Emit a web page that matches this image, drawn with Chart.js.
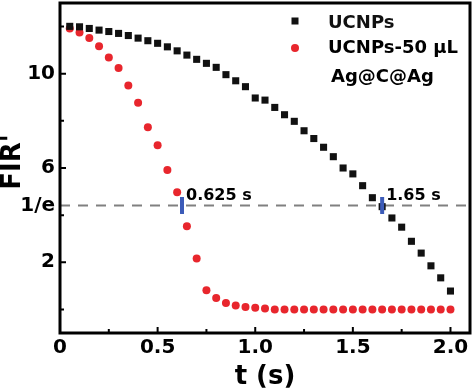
<!DOCTYPE html>
<html lang="pt-BR">
<head>
<meta charset="utf-8">
<title>FIR' x t</title>
<script src="https://cdn.jsdelivr.net/npm/chart.js@4.4.1/dist/chart.umd.min.js"></script>
<style>
  html, body { margin: 0; padding: 0; background: #fff; }
  #grafico { display: block; }
</style>
</head>
<body>
<canvas id="grafico" width="474" height="392"></canvas>
<script>
'use strict';

// Tempo (s) de cada medida
const tempos = [0.05, 0.10, 0.15, 0.20, 0.25, 0.30, 0.35, 0.40, 0.45, 0.50,
  0.55, 0.60, 0.65, 0.70, 0.75, 0.80, 0.85, 0.90, 0.95, 1.00,
  1.05, 1.10, 1.15, 1.20, 1.25, 1.30, 1.35, 1.40, 1.45, 1.50,
  1.55, 1.60, 1.65, 1.70, 1.75, 1.80, 1.85, 1.90, 1.95, 2.00];

// FIR' – UCNPs (quadrados pretos)
const firUCNPs = [12.01, 11.99, 11.92, 11.85, 11.79, 11.71, 11.62, 11.51, 11.40, 11.29,
  11.14, 10.97, 10.79, 10.61, 10.44, 10.27, 9.96, 9.70, 9.45, 8.97,
  8.88, 8.57, 8.26, 7.98, 7.58, 7.25, 6.88, 6.48, 6.00, 5.75,
  5.25, 4.74, 4.36, 3.88, 3.49, 2.89, 2.39, 1.85, 1.34, 0.78];

// FIR' – UCNPs-50 µL Ag@C@Ag (círculos vermelhos)
const firAgCAg = [11.92, 11.75, 11.51, 11.17, 10.69, 10.24, 9.50, 8.77, 7.73, 6.96,
  5.92, 4.97, 3.53, 2.16, 0.81, 0.48, 0.27, 0.17, 0.10, 0.07,
  0.04, 0.00, 0.00, 0.00, 0.00, 0.00, 0.00, 0.00, 0.00, 0.00,
  0.00, 0.00, 0.00, 0.00, 0.00, 0.00, 0.00, 0.00, 0.00, 0.00];

const UM_SOBRE_E = 4.41;              // 12/e, linha tracejada
const tempoLinha = [0, 2.1];          // extensão da linha tracejada
const marcadores = [0.625, 1.65];     // tempos onde cruza 1/e
const rotulosMarcadores = ['0.625 s', '1.65 s'];

const xTicks = [0, 0.5, 1, 1.5, 2];
const xRotulos = ['0', '0.5', '1.0', '1.5', '2.0'];
const xMenores = [0.25, 0.75, 1.25, 1.75];
const yMaiores = [2, 6, 10];
const yTicks = [2, 6, 10, UM_SOBRE_E];
const yRotulos = ['2', '6', '10', '1/e'];
const yMenores = [0, 4, 8, 12];

const legendas = ['UCNPs', 'UCNPs-50 µL'];
const legendaExtra = 'Ag@C@Ag';

const FONTE = "'DejaVu Sans', sans-serif";
const PRETO = '#111';
const VERMELHO = '#e8262d';
const AZUL = '#3c5bb8';

const pontos = (ys) => tempos.map((t, i) => ({ x: t, y: ys[i] }));

// Fundo branco, moldura, ticks internos, títulos, anotações e legenda
const desenhoExtra = {
  id: 'desenhoExtra',
  beforeDraw(chart) {
    const { ctx, width, height } = chart;
    ctx.save();
    ctx.fillStyle = '#fff';
    ctx.fillRect(0, 0, width, height);
    ctx.restore();
  },
  afterDraw(chart) {
    const { ctx, chartArea: a, scales: { x, y } } = chart;
    ctx.save();

    // ticks para dentro
    ctx.strokeStyle = '#000';
    ctx.lineWidth = 2;
    ctx.beginPath();
    for (const v of xTicks) { const px = x.getPixelForValue(v); ctx.moveTo(px, a.bottom); ctx.lineTo(px, a.bottom - 6); }
    for (const v of xMenores) { const px = x.getPixelForValue(v); ctx.moveTo(px, a.bottom); ctx.lineTo(px, a.bottom - 4); }
    for (const v of yMaiores) { const py = y.getPixelForValue(v); ctx.moveTo(a.left, py); ctx.lineTo(a.left + 6, py); }
    for (const v of yMenores) { const py = y.getPixelForValue(v); ctx.moveTo(a.left, py); ctx.lineTo(a.left + 4, py); }
    ctx.stroke();

    ctx.lineWidth = 3;
    ctx.strokeRect(a.left, a.top, a.right - a.left, a.bottom - a.top);

    // títulos dos eixos
    ctx.fillStyle = '#000';
    ctx.font = `bold 26px ${FONTE}`;
    ctx.textAlign = 'center';
    ctx.textBaseline = 'middle';
    ctx.fillText('t (s)', (a.left + a.right) / 2, 377);
    ctx.save();
    ctx.translate(13, 162);
    ctx.rotate(-Math.PI / 2);
    ctx.fillText("FIR'", 0, 0);
    ctx.restore();

    // rótulos dos tempos em 1/e
    ctx.font = `bold 16px ${FONTE}`;
    ctx.textAlign = 'left';
    ctx.textBaseline = 'alphabetic';
    const yE = y.getPixelForValue(UM_SOBRE_E);
    marcadores.forEach((m, i) => {
      ctx.fillText(rotulosMarcadores[i], x.getPixelForValue(m) + 4, yE - 5);
    });

    // legenda
    ctx.font = `bold 18px ${FONTE}`;
    const lx = a.right - 175;
    const tx = a.right - 142;
    ctx.fillStyle = PRETO;
    ctx.fillRect(lx - 3.5, a.top + 18 - 3.5, 7, 7);
    ctx.fillText(legendas[0], tx, a.top + 25);
    ctx.fillStyle = VERMELHO;
    ctx.beginPath();
    ctx.arc(lx, a.top + 45, 4, 0, Math.PI * 2);
    ctx.fill();
    ctx.fillStyle = '#000';
    ctx.fillText(legendas[1], tx, a.top + 50);
    ctx.fillText(legendaExtra, tx + 3, a.top + 79);

    ctx.restore();
  },
};

const fonteTicks = { family: FONTE, size: 20, weight: 'bold' };

new Chart(document.getElementById('grafico'), {
  type: 'scatter',
  data: {
    datasets: [
      {
        label: 'marcadores',
        data: marcadores.map((m) => ({ x: m, y: UM_SOBRE_E })),
        pointStyle: 'line',
        rotation: 90,
        pointRadius: 8.5,
        borderColor: AZUL,
        pointBorderWidth: 4,
        order: 0,
      },
      {
        label: legendas[0],
        data: pontos(firUCNPs),
        pointStyle: 'rect',
        pointRadius: 5,
        backgroundColor: PRETO,
        pointBorderWidth: 0,
        order: 1,
      },
      {
        label: legendas[1],
        data: pontos(firAgCAg),
        pointStyle: 'circle',
        pointRadius: 4,
        backgroundColor: VERMELHO,
        pointBorderWidth: 0,
        order: 2,
      },
      {
        label: '1/e',
        data: tempoLinha.map((t) => ({ x: t, y: UM_SOBRE_E })),
        showLine: true,
        borderColor: '#808080',
        borderWidth: 2,
        borderDash: [10, 8],
        pointRadius: 0,
        order: 3,
      },
    ],
  },
  options: {
    responsive: false,
    animation: false,
    events: [],
    layout: { autoPadding: false, padding: { top: 3, right: 4, left: 0, bottom: 0 } },
    plugins: { legend: { display: false }, tooltip: { enabled: false } },
    scales: {
      x: {
        type: 'linear',
        min: 0,
        max: 2.1,
        afterBuildTicks: (s) => { s.ticks = xTicks.map((v) => ({ value: v })); },
        afterFit: (s) => { s.height = 59; s.paddingLeft = 0; s.paddingRight = 0; },
        ticks: { autoSkip: false, maxRotation: 0, color: '#000', font: fonteTicks, padding: 3, callback: (v, i) => xRotulos[i] },
        grid: { display: false, drawTicks: false },
        border: { display: false },
      },
      y: {
        type: 'linear',
        min: -1,
        max: 13,
        afterBuildTicks: (s) => { s.ticks = yTicks.map((v) => ({ value: v })); },
        afterFit: (s) => { s.width = 60; s.paddingTop = 0; s.paddingBottom = 0; },
        ticks: { autoSkip: false, color: '#000', font: fonteTicks, padding: 5, callback: (v, i) => yRotulos[i] },
        grid: { display: false, drawTicks: false },
        border: { display: false },
      },
    },
  },
  plugins: [desenhoExtra],
});
</script>
</body>
</html>
